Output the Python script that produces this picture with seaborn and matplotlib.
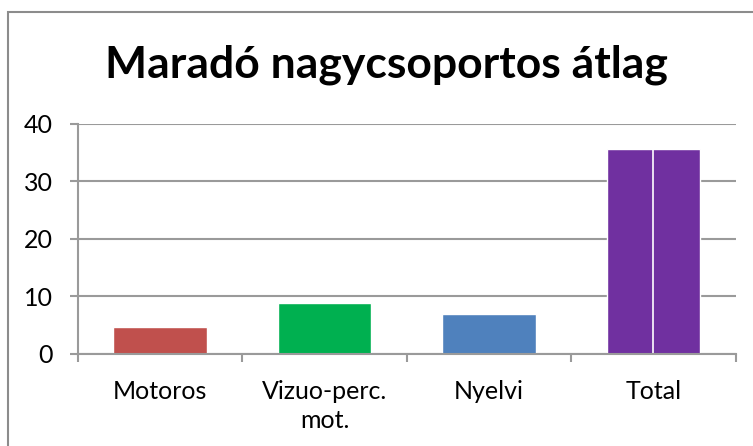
import matplotlib
matplotlib.use("Agg")
import matplotlib.pyplot as plt
import matplotlib.patches as mpatches
import seaborn as sns
import pandas as pd
import numpy as np

categories = ["Motoros", "Vizuo-perc.\nmot.", "Nyelvi", "Total"]
values = [4.7, 8.9, 7.0, 35.7]
colors = ["#C0504D", "#00B050", "#4F81BD", "#7030A0"]
yticks = [0, 10, 20, 30, 40]
title = "Maradó nagycsoportos átlag"

sns.set_theme(style="white")
plt.rcParams["font.family"] = ["Lato", "DejaVu Sans"]

df = pd.DataFrame({"category": categories, "value": values})

fig = plt.figure(figsize=(7.53, 4.46), dpi=100)
ax = fig.add_axes([0.1032, 0.2063, 0.8738, 0.5157])

sns.barplot(data=df, x="category", y="value", hue="category",
            palette=colors, legend=False, width=0.57, saturation=1,
            ax=ax, zorder=3)

# thin white split through the tallest bar
idx = categories.index("Total")
ax.vlines(idx, 0, values[idx], color="white", lw=1.2, zorder=4)

ax.set_ylim(0, 40)
ax.set_xlim(-0.5, len(categories) - 0.5)
ax.set_yticks(yticks)
ax.set_xlabel("")
ax.set_ylabel("")

gray = "#9A9A9A"
ax.yaxis.grid(True, color=gray, lw=1.5, zorder=0)
ax.xaxis.grid(False)
for s in ["top", "right"]:
    ax.spines[s].set_visible(False)
for s in ["left", "bottom"]:
    ax.spines[s].set_color(gray)
    ax.spines[s].set_linewidth(1.5)
    ax.spines[s].set_zorder(5)

ax.tick_params(axis="y", which="major", length=6, width=1.5, color=gray,
               direction="out", labelsize=18, pad=12, left=True)
ax.tick_params(axis="x", which="major", length=0, labelsize=18, pad=19)
ax.set_xticks(np.arange(-0.5, len(categories)), minor=True)
ax.tick_params(axis="x", which="minor", length=6, width=1.5, color=gray,
               direction="out", bottom=True)
for lab in ax.get_xticklabels() + ax.get_yticklabels():
    lab.set_color("#000000")
for lab in ax.get_xticklabels():
    lab.set_verticalalignment("top")
    lab.set_linespacing(1.3)

fig.text(0.513, 0.855, title, ha="center", va="center",
         fontsize=32, fontweight="bold", color="#000000")

# chart frame
fig.patches.append(mpatches.Rectangle((8 / 753, -0.1), 1.2, 1 - 12 / 446 + 0.1,
                                      transform=fig.transFigure, fill=False,
                                      edgecolor="#8C8C8C", lw=1.5))

fig.savefig("out.png", dpi=100)
